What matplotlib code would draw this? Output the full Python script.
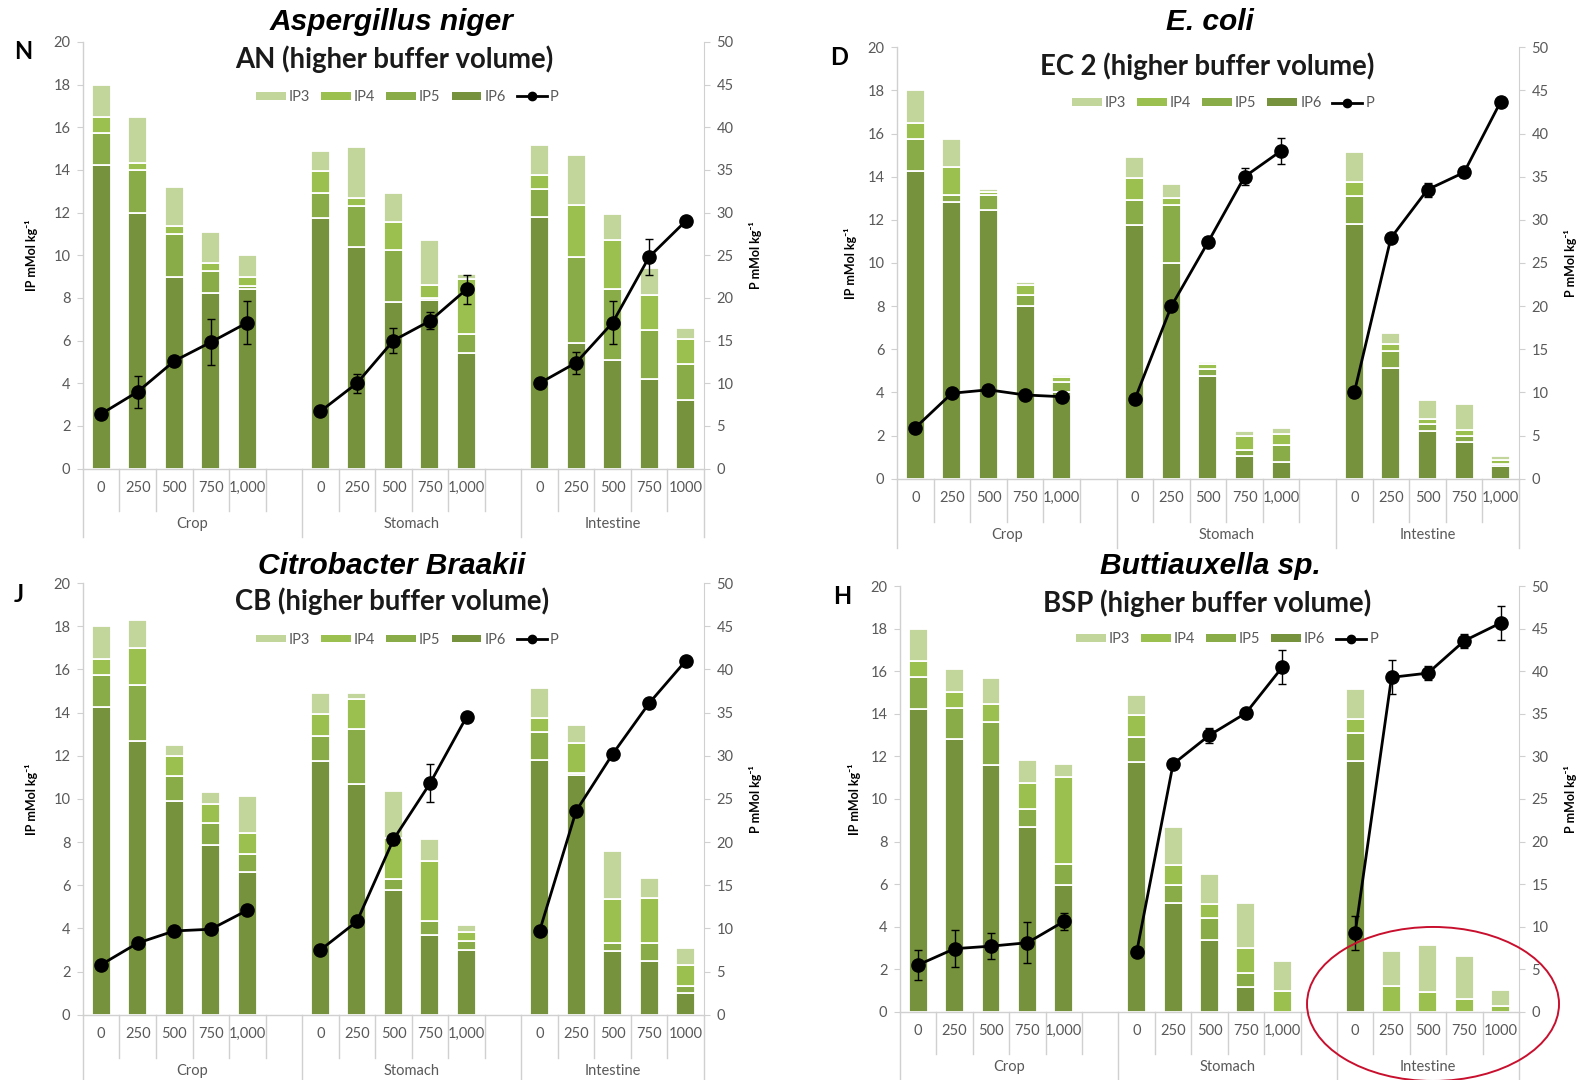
import matplotlib
matplotlib.use("Agg")
import matplotlib.pyplot as plt
import matplotlib.transforms as mtransforms
from matplotlib.patches import Patch, Ellipse
from matplotlib.lines import Line2D
import numpy as np

plt.rcParams['font.family'] = ['Lato', 'DejaVu Sans']

# ---------------- data ----------------
groups = ["Crop", "Stomach", "Intestine"]
doses_comma = ["0", "250", "500", "750", "1,000"]
doses_plain = ["0", "250", "500", "750", "1000"]
series_names = ["IP3", "IP4", "IP5", "IP6", "P"]

# Panel N - Aspergillus niger (order: Crop 0..1000, Stomach 0..1000, Intestine 0..1000)
N_ip6 = [14.25, 12.0, 9.0, 8.25, 8.4,   11.75, 10.4, 7.8, 7.9, 5.4,   11.8, 5.9, 5.1, 4.2, 3.2]
N_ip5 = [1.5, 2.0, 2.0, 1.0, 0.15,      1.15, 1.9, 2.45, 0.1, 0.9,     1.3, 4.0, 3.3, 2.3, 1.7]
N_ip4 = [0.75, 0.3, 0.35, 0.4, 0.45,    1.05, 0.4, 1.3, 0.6, 2.6,      0.65, 2.45, 2.3, 1.65, 1.15]
N_ip3 = [1.5, 2.2, 1.85, 1.45, 1.0,     0.95, 2.35, 1.35, 2.1, 0.2,    1.4, 2.35, 1.25, 1.25, 0.55]
N_p = [6.4, 9.0, 12.6, 14.8, 17.1,      6.7, 10.0, 15.0, 17.3, 21.0,   10.0, 12.4, 17.1, 24.8, 29.0]
N_perr = [0.4, 1.9, 0.5, 2.7, 2.5,      0.3, 1.1, 1.5, 1.0, 1.7,       0.3, 1.3, 2.5, 2.1, 0.5]

# Panel D - E. coli
D_ip6 = [14.25, 12.85, 12.45, 8.0, 4.0,  11.75, 10.0, 4.75, 1.05, 0.77,  11.8, 5.15, 2.2, 1.7, 0.6]
D_ip5 = [1.5, 0.3, 0.7, 0.5, 0.5,        1.15, 2.7, 0.35, 0.3, 0.8,      1.3, 0.75, 0.35, 0.27, 0.1]
D_ip4 = [0.75, 1.3, 0.15, 0.5, 0.2,      1.05, 0.3, 0.2, 0.65, 0.5,      0.65, 0.35, 0.2, 0.27, 0.15]
D_ip3 = [1.5, 1.3, 0.13, 0.1, 0.1,       0.95, 0.65, 0.1, 0.2, 0.3,      1.4, 0.5, 0.9, 1.22, 0.2]
D_p = [5.9, 9.9, 10.3, 9.7, 9.5,         9.2, 20.0, 27.4, 35.0, 38.0,    10.0, 27.9, 33.5, 35.5, 43.7]
D_perr = [0.3, 0.3, 0.3, 0.3, 0.3,       0.3, 0.4, 0.6, 1.0, 1.5,        0.3, 0.5, 0.8, 0.5, 0.5]

# Panel J - Citrobacter braakii
J_ip6 = [14.25, 12.7, 9.9, 7.85, 6.6,    11.75, 10.7, 5.8, 3.7, 3.0,     11.8, 11.1, 2.95, 2.5, 1.0]
J_ip5 = [1.5, 2.6, 1.15, 1.05, 0.85,     1.15, 2.55, 0.5, 0.65, 0.4,     1.3, 0.1, 0.35, 0.8, 0.35]
J_ip4 = [0.75, 1.7, 0.95, 0.85, 0.95,    1.05, 1.4, 1.9, 2.75, 0.45,     0.65, 1.4, 2.05, 2.1, 0.95]
J_ip3 = [1.5, 1.3, 0.5, 0.55, 1.75,      0.95, 0.25, 2.15, 1.05, 0.3,    1.4, 0.85, 2.25, 0.95, 0.8]
J_p = [5.8, 8.3, 9.7, 9.9, 12.1,         7.5, 10.8, 20.3, 26.8, 34.5,    9.7, 23.6, 30.2, 36.1, 41.0]
J_perr = [0.3, 0.3, 0.3, 0.3, 0.3,       0.3, 0.4, 0.6, 2.2, 0.4,        0.3, 0.5, 0.5, 0.5, 0.5]

# Panel H - Buttiauxella sp.
H_ip6 = [14.25, 12.8, 11.6, 8.7, 5.95,   11.75, 5.1, 3.35, 1.15, 0.0,    11.8, 0.0, 0.0, 0.0, 0.0]
H_ip5 = [1.5, 1.5, 2.0, 0.85, 1.0,       1.15, 0.85, 1.05, 0.65, 0.0,    1.3, 0.0, 0.0, 0.0, 0.0]
H_ip4 = [0.75, 0.75, 0.85, 1.2, 4.1,     1.05, 0.95, 0.65, 1.2, 0.95,    0.65, 1.2, 0.9, 0.6, 0.25]
H_ip3 = [1.5, 1.05, 1.25, 1.1, 0.6,      0.95, 1.8, 1.4, 2.1, 1.45,      1.4, 1.65, 2.25, 2.0, 0.75]
H_p = [5.5, 7.4, 7.7, 8.1, 10.6,         7.0, 29.1, 32.5, 35.1, 40.5,    9.2, 39.3, 39.8, 43.6, 45.7]
H_perr = [1.8, 2.2, 1.5, 2.4, 1.0,       0.4, 0.6, 0.9, 0.5, 2.0,        2.0, 2.0, 0.8, 0.8, 2.0]

# ---------------- style ----------------
C6, C5, C4, C3 = "#76923c", "#8aac48", "#9cc04f", "#c2d59b"
AXC = "#d0d0d0"
TXT = "#595959"

panels = [
    dict(ip=(N_ip6, N_ip5, N_ip4, N_ip3), p=N_p, perr=N_perr, int_labels=doses_plain,
         rect=[0.0526, 0.5662, 0.3938, 0.3950], letter="N", letter_xy=(0.009, 0.952),
         t1="Aspergillus niger", t1_xy=(0.2486, 0.9796), t2="AN (higher buffer volume)", t2_xy=(0.2498, 0.9454),
         ylx=(-0.072, 1.072), leg=(0.522, 0.871)),
    dict(ip=(D_ip6, D_ip5, D_ip4, D_ip3), p=D_p, perr=D_perr, int_labels=doses_comma,
         rect=[0.5688, 0.5568, 0.3944, 0.3994], letter="D", letter_xy=(0.5263, 0.947),
         t1="E. coli", t1_xy=(0.7673, 0.9796), t2="EC 2 (higher buffer volume)", t2_xy=(0.7654, 0.939),
         ylx=(-0.064, 1.072), leg=(0.524, 0.870)),
    dict(ip=(J_ip6, J_ip5, J_ip4, J_ip3), p=J_p, perr=J_perr, int_labels=doses_plain,
         rect=[0.0526, 0.0605, 0.3938, 0.3995], letter="J", letter_xy=(0.009, 0.450),
         t1="Citrobacter Braakii", t1_xy=(0.2486, 0.476), t2="CB (higher buffer volume)", t2_xy=(0.2486, 0.4435),
         ylx=(-0.072, 1.072), leg=(0.522, 0.869)),
    dict(ip=(H_ip6, H_ip5, H_ip4, H_ip3), p=H_p, perr=H_perr, int_labels=doses_plain,
         rect=[0.5707, 0.0633, 0.3925, 0.3938], letter="H", letter_xy=(0.528, 0.448),
         t1="Buttiauxella sp.", t1_xy=(0.7673, 0.476), t2="BSP (higher buffer volume)", t2_xy=(0.7654, 0.4417),
         ylx=(-0.063, 1.073), leg=(0.528, 0.875)),
]

fig = plt.figure(figsize=(15.77, 10.80), dpi=100)

slots = np.array([g * 6 + i for g in range(3) for i in range(5)])

for pn in panels:
    ax = fig.add_axes(pn["rect"])
    bottom = np.zeros(15)
    for vals, col in zip(pn["ip"], (C6, C5, C4, C3)):
        v = np.array(vals)
        ax.bar(slots, v, width=0.52, bottom=bottom, color=col, edgecolor="white", linewidth=1.3, zorder=2)
        bottom += v
    ax.set_xlim(-0.5, 16.5)
    ax.set_ylim(0, 20)
    ax.set_yticks(range(0, 21, 2))
    ticklabels = doses_comma + [""] + doses_comma + [""] + pn["int_labels"]
    ax.set_xticks(range(17))
    ax.set_xticklabels(ticklabels)
    ax.tick_params(axis="x", length=0, pad=9, labelsize=10.5, labelcolor=TXT)
    ax.tick_params(axis="y", length=4, color=AXC, labelsize=10.5, labelcolor=TXT, pad=5)
    for s in ("top", "right"):
        ax.spines[s].set_visible(False)
    for s in ("left", "bottom"):
        ax.spines[s].set_color(AXC)
        ax.spines[s].set_linewidth(1.0)
    ax.set_ylabel("IP mMol kg⁻¹", fontsize=9, fontweight="bold", color="black")
    ax.yaxis.set_label_coords(pn["ylx"][0], 0.5)

    # category separators and group dividers
    trans = mtransforms.blended_transform_factory(ax.transData, ax.transAxes)
    for b in np.arange(0.5, 16.5, 1.0):
        if b in (5.5, 11.5):
            continue
        ax.plot([b, b], [0, -0.1], transform=trans, color=AXC, lw=1.0, clip_on=False)
    for b in (-0.5, 5.5, 11.5, 16.5):
        ax.plot([b, b], [0, -0.16], transform=trans, color=AXC, lw=1.0, clip_on=False)
    for gname, gx in zip(groups, (2.5, 8.5, 14.0)):
        ax.text(gx, -0.13, gname, transform=trans, ha="center", va="center", fontsize=10.5, color=TXT)

    ax2 = ax.twinx()
    ax2.set_ylim(0, 50)
    ax2.set_yticks(range(0, 51, 5))
    ax2.tick_params(axis="y", length=4, color=AXC, labelsize=10.5, labelcolor=TXT, pad=5)
    for s in ("top", "left", "bottom"):
        ax2.spines[s].set_visible(False)
    ax2.spines["right"].set_color(AXC)
    ax2.set_ylabel("P mMol kg⁻¹", fontsize=9, fontweight="bold", color="black")
    ax2.yaxis.set_label_coords(pn["ylx"][1], 0.5)
    p = np.array(pn["p"])
    pe = np.array(pn["perr"])
    for g in range(3):
        sl = slice(g * 5, g * 5 + 5)
        ax2.errorbar(slots[sl], p[sl], yerr=pe[sl], color="black", lw=2.0, marker="o", ms=9.5,
                     ecolor="black", elinewidth=1.0, capsize=3, zorder=3)

    handles = [Patch(facecolor=C3), Patch(facecolor=C4), Patch(facecolor=C5), Patch(facecolor=C6),
               Line2D([], [], color="black", lw=2, marker="o", ms=6)]
    ax2.legend(handles, series_names, loc="center", bbox_to_anchor=pn["leg"], ncol=5, frameon=False,
               fontsize=10.5, handlelength=2.05, handleheight=0.45, columnspacing=0.75, handletextpad=0.2,
               labelcolor=TXT)

    fig.text(*pn["letter_xy"], pn["letter"], fontsize=17, fontweight="bold", ha="left", va="center")
    fig.text(*pn["t1_xy"], pn["t1"], fontsize=21.5, fontweight="bold", style="italic",
             family=["Liberation Sans", "DejaVu Sans"], ha="center", va="center")
    fig.text(*pn["t2_xy"], pn["t2"], fontsize=19.8, fontweight="bold", ha="center", va="center", color="#1a1a1a")

fig.add_artist(Ellipse((0.9087, 0.0704), 0.1598, 0.1426, transform=fig.transFigure,
                       fill=False, edgecolor="#c8102e", lw=1.4))

fig.savefig("out.png", dpi=100)
